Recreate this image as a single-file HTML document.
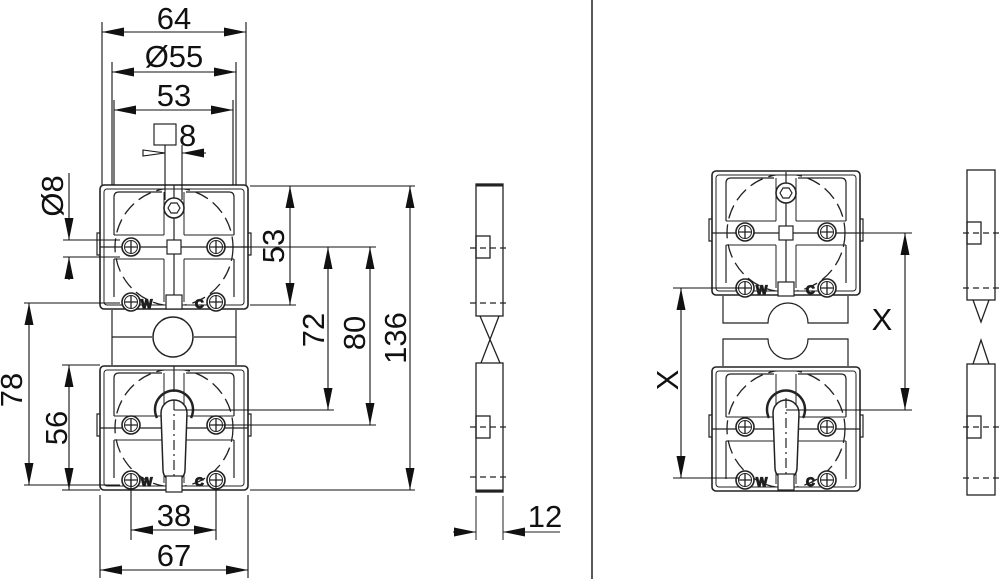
<!DOCTYPE html>
<html><head><meta charset="utf-8"><style>
html,body{margin:0;padding:0;background:#fff;}
svg{display:block;}
text{font-family:"Liberation Sans",sans-serif;font-size:31px;fill:#111;}
</style></head><body>
<svg width="1000" height="579" viewBox="0 0 1000 579" xmlns="http://www.w3.org/2000/svg">
<defs>
<marker id="a" viewBox="0 0 22 9" refX="22" refY="4.5" markerWidth="22" markerHeight="9" markerUnits="userSpaceOnUse" orient="auto-start-reverse"><path d="M0,0 L22,4.5 L0,9 z" fill="#111"/></marker>
<g id="screw"><circle r="9" fill="#fff" stroke="#222" stroke-width="1.6"/><circle r="6.5" fill="none" stroke="#222" stroke-width="1"/><path d="M-6,0H6M0,-6V6" stroke="#222" stroke-width="1.3"/></g>
<clipPath id="fc"><rect x="-70" y="-58" width="140" height="116"/></clipPath>
<g id="frame" fill="none" stroke="#222" stroke-width="1.6">
<rect x="-74" y="-62" width="148" height="124" rx="4"/>
<rect x="-70" y="-58" width="140" height="116" rx="3" stroke-width="1"/>
<path d="M-60,-12 V-50 Q-60,-55 -55,-55 H-12 M12,-55 H55 Q60,-55 60,-50 V-12 M-60,12 V50 M60,12 V50" stroke-width="1.2"/>
<path d="M-10,-12 H-60 M10,-12 H60 M-10,12 H-60 M10,12 H60 M-10,-55 V-12 M10,-55 V-12 M-10,12 V55 M10,12 V55" stroke-width="1"/>
<circle r="59" stroke-dasharray="14,6" stroke-width="1.3" clip-path="url(#fc)"/>
<path d="M-74,-14h-3v22h3M74,-14h3v22h-3" stroke-width="1.2"/>
</g>
</defs>

<line x1="592" y1="0" x2="592" y2="579" stroke="#222" stroke-width="1.5"/>

<g stroke="#222" stroke-width="1.2" fill="none">
<use href="#frame" x="174" y="247"/>
<line x1="174" y1="185" x2="174" y2="305"/>
<line x1="100" y1="247" x2="248" y2="247"/>
<rect x="167" y="240" width="14" height="14" fill="#fff"/>
<rect x="166" y="295" width="16" height="14" fill="#fff"/>
<circle cx="174" cy="208" r="10" fill="#fff" stroke-width="1.6"/>
<polygon points="168,208 171,203 177,203 180,208 177,213 171,213"/>
<use href="#screw" x="131" y="247"/><use href="#screw" x="216" y="247"/>
<use href="#screw" x="131" y="302"/><use href="#screw" x="216" y="302"/>
<text x="141" y="308" style="font-size:12px;font-weight:bold">W</text>
<text x="195" y="308" style="font-size:12px;font-weight:bold">C</text>
<line x1="112" y1="310" x2="112" y2="365"/><line x1="236" y1="310" x2="236" y2="365"/>
<line x1="112" y1="337" x2="152" y2="337"/><line x1="194" y1="337" x2="236" y2="337"/>
<circle cx="173" cy="337" r="20" fill="#fff" stroke-width="1.5"/>
<use href="#frame" x="174" y="428"/>
<line x1="174" y1="366" x2="174" y2="392"/>
<line x1="100" y1="428" x2="248" y2="428"/>
<path d="M157,418 A19,19 0 1 1 191,418" stroke-width="2.5"/>
<path d="M161,413 A13,13 0 1 1 187,413 L185,470 A11,11 0 0 1 163,470 Z" fill="#fff" stroke-width="1.5"/>
<line x1="174" y1="400" x2="174" y2="485" stroke-dasharray="10,4,2,4"/>
<rect x="166" y="476" width="16" height="16" fill="#fff"/>
<use href="#screw" x="131" y="425"/><use href="#screw" x="216" y="425"/>
<use href="#screw" x="131" y="480"/><use href="#screw" x="216" y="480"/>
<text x="141" y="486" style="font-size:12px;font-weight:bold">W</text>
<text x="195" y="486" style="font-size:12px;font-weight:bold">C</text>
</g>

<g stroke="#111" stroke-width="1.1" fill="none">
<line x1="102" y1="22" x2="102" y2="185"/><line x1="246" y1="22" x2="246" y2="185"/>
<line x1="102" y1="32" x2="246" y2="32" marker-start="url(#a)" marker-end="url(#a)"/>
<line x1="112" y1="62" x2="112" y2="185"/><line x1="236" y1="62" x2="236" y2="185"/>
<line x1="112" y1="72" x2="236" y2="72" marker-start="url(#a)" marker-end="url(#a)"/>
<line x1="114" y1="100" x2="114" y2="185"/><line x1="233" y1="100" x2="233" y2="185"/>
<line x1="114" y1="110" x2="233" y2="110" marker-start="url(#a)" marker-end="url(#a)"/>
<line x1="165" y1="145" x2="165" y2="200"/><line x1="182" y1="145" x2="182" y2="200"/>
<path d="M143,150 L165,153 L143,156 Z"/>
<line x1="206" y1="153" x2="182" y2="153" marker-end="url(#a)"/>
<rect x="154" y="124" width="22" height="21"/>
<line x1="63" y1="240" x2="120" y2="240"/><line x1="63" y1="257" x2="120" y2="257"/>
<line x1="69" y1="173" x2="69" y2="240" marker-end="url(#a)"/>
<line x1="69" y1="280" x2="69" y2="257" marker-end="url(#a)"/>
<line x1="24" y1="303" x2="120" y2="303"/><line x1="24" y1="485" x2="120" y2="485"/>
<line x1="29" y1="303" x2="29" y2="485" marker-start="url(#a)" marker-end="url(#a)"/>
<line x1="62" y1="365" x2="100" y2="365"/><line x1="62" y1="490" x2="100" y2="490"/>
<line x1="69" y1="365" x2="69" y2="490" marker-start="url(#a)" marker-end="url(#a)"/>
<line x1="250" y1="186" x2="415" y2="186"/>
<line x1="250" y1="305" x2="296" y2="305"/>
<line x1="290" y1="186" x2="290" y2="305" marker-start="url(#a)" marker-end="url(#a)"/>
<line x1="216" y1="247" x2="376" y2="247"/>
<line x1="174" y1="410" x2="334" y2="410"/>
<line x1="216" y1="425" x2="376" y2="425"/>
<line x1="250" y1="490" x2="415" y2="490"/>
<line x1="328" y1="247" x2="328" y2="410" marker-start="url(#a)" marker-end="url(#a)"/>
<line x1="370" y1="247" x2="370" y2="425" marker-start="url(#a)" marker-end="url(#a)"/>
<line x1="410" y1="186" x2="410" y2="490" marker-start="url(#a)" marker-end="url(#a)"/>
<line x1="131" y1="480" x2="131" y2="540"/><line x1="216" y1="480" x2="216" y2="540"/>
<line x1="131" y1="530" x2="216" y2="530" marker-start="url(#a)" marker-end="url(#a)"/>
<line x1="100" y1="495" x2="100" y2="578"/><line x1="248" y1="495" x2="248" y2="578"/>
<line x1="100" y1="570" x2="248" y2="570" marker-start="url(#a)" marker-end="url(#a)"/>
</g>
<g>
<text x="174" y="29" text-anchor="middle">64</text>
<text x="174" y="67" text-anchor="middle">Ø55</text>
<text x="174" y="106" text-anchor="middle">53</text>
<text x="179" y="146">8</text>
<text x="174" y="526" text-anchor="middle">38</text>
<text x="174" y="566" text-anchor="middle">67</text>
<text x="545" y="527" text-anchor="middle">12</text>
<text transform="translate(63,196) rotate(-90)" text-anchor="middle">Ø8</text>
<text transform="translate(22,390) rotate(-90)" text-anchor="middle">78</text>
<text transform="translate(67,428) rotate(-90)" text-anchor="middle">56</text>
<text transform="translate(284,246) rotate(-90)" text-anchor="middle">53</text>
<text transform="translate(324,330) rotate(-90)" text-anchor="middle">72</text>
<text transform="translate(365,333) rotate(-90)" text-anchor="middle">80</text>
<text transform="translate(406,338) rotate(-90)" text-anchor="middle">136</text>
<text transform="translate(678,380) rotate(-90)" text-anchor="middle">X</text>
<text x="882" y="330" text-anchor="middle">X</text>
</g>

<g stroke="#222" stroke-width="1.3" fill="none">
<rect x="476" y="184" width="27" height="132"/>
<line x1="476" y1="185" x2="503" y2="185" stroke-width="3"/>
<rect x="476" y="236" width="14" height="22"/>
<line x1="470" y1="248" x2="510" y2="248" stroke-dasharray="6,4"/>
<line x1="470" y1="303" x2="510" y2="303" stroke-dasharray="6,4"/>
<path d="M480,316 L500,363 M499,316 L481,363"/>
<rect x="476" y="363" width="27" height="129"/>
<line x1="476" y1="491" x2="503" y2="491" stroke-width="3"/>
<rect x="476" y="416" width="14" height="22"/>
<line x1="470" y1="427" x2="510" y2="427" stroke-dasharray="6,4"/>
<line x1="470" y1="477" x2="510" y2="477" stroke-dasharray="6,4"/>
<line x1="476" y1="496" x2="476" y2="540" stroke-width="1"/>
<line x1="503" y1="496" x2="503" y2="540" stroke-width="1"/>
<line x1="453" y1="532" x2="476" y2="532" marker-end="url(#a)" stroke-width="1"/>
<line x1="560" y1="532" x2="503" y2="532" marker-end="url(#a)" stroke-width="1"/>
</g>

<g stroke="#222" stroke-width="1.2" fill="none">
<use href="#frame" x="786" y="233"/>
<line x1="786" y1="172" x2="786" y2="295"/>
<line x1="712" y1="233" x2="860" y2="233"/>
<rect x="779" y="226" width="14" height="14" fill="#fff"/>
<rect x="778" y="282" width="16" height="14" fill="#fff"/>
<circle cx="786" cy="193" r="10" fill="#fff" stroke-width="1.6"/>
<polygon points="780,193 783,188 789,188 792,193 789,198 783,198"/>
<use href="#screw" x="745" y="232"/><use href="#screw" x="827" y="232"/>
<use href="#screw" x="745" y="288"/><use href="#screw" x="827" y="288"/>
<text x="756" y="294" style="font-size:12px;font-weight:bold">W</text>
<text x="806" y="294" style="font-size:12px;font-weight:bold">C</text>
<path d="M723,296 V323 H768 A20,20 0 0 1 808,323 H848 V296"/>
<path d="M723,366 V339 H768 A20,20 0 0 0 808,339 H848 V366"/>
<use href="#frame" x="786" y="429"/>
<line x1="712" y1="429" x2="860" y2="429"/>
<path d="M769,418 A19,19 0 1 1 803,418" stroke-width="2.5"/>
<path d="M773,413 A13,13 0 1 1 799,413 L797,468 A11,11 0 0 1 775,468 Z" fill="#fff" stroke-width="1.5"/>
<line x1="786" y1="398" x2="786" y2="480" stroke-dasharray="10,4,2,4"/>
<rect x="778" y="474" width="16" height="16" fill="#fff"/>
<use href="#screw" x="745" y="427"/><use href="#screw" x="827" y="427"/>
<use href="#screw" x="745" y="480"/><use href="#screw" x="827" y="480"/>
<text x="756" y="486" style="font-size:12px;font-weight:bold">W</text>
<text x="806" y="486" style="font-size:12px;font-weight:bold">C</text>
</g>
<g stroke="#111" stroke-width="1.1" fill="none">
<line x1="673" y1="288" x2="740" y2="288"/><line x1="673" y1="478" x2="740" y2="478"/>
<line x1="681" y1="288" x2="681" y2="478" marker-start="url(#a)" marker-end="url(#a)"/>
<line x1="860" y1="233" x2="912" y2="233"/><line x1="786" y1="410" x2="912" y2="410"/>
<line x1="905" y1="233" x2="905" y2="410" marker-start="url(#a)" marker-end="url(#a)"/>
</g>
<g stroke="#222" stroke-width="1.3" fill="none">
<rect x="967" y="170" width="28" height="130"/>
<rect x="967" y="222" width="14" height="22"/>
<line x1="963" y1="233" x2="1000" y2="233" stroke-dasharray="6,4"/>
<line x1="963" y1="288" x2="1000" y2="288" stroke-dasharray="6,4"/>
<path d="M973,300 L981,322 L989,300"/>
<path d="M973,364 L981,340 L989,364"/>
<rect x="967" y="364" width="28" height="131"/>
<rect x="967" y="416" width="14" height="22"/>
<line x1="963" y1="427" x2="1000" y2="427" stroke-dasharray="6,4"/>
<line x1="963" y1="478" x2="1000" y2="478" stroke-dasharray="6,4"/>
</g>
</svg>
</body></html>
